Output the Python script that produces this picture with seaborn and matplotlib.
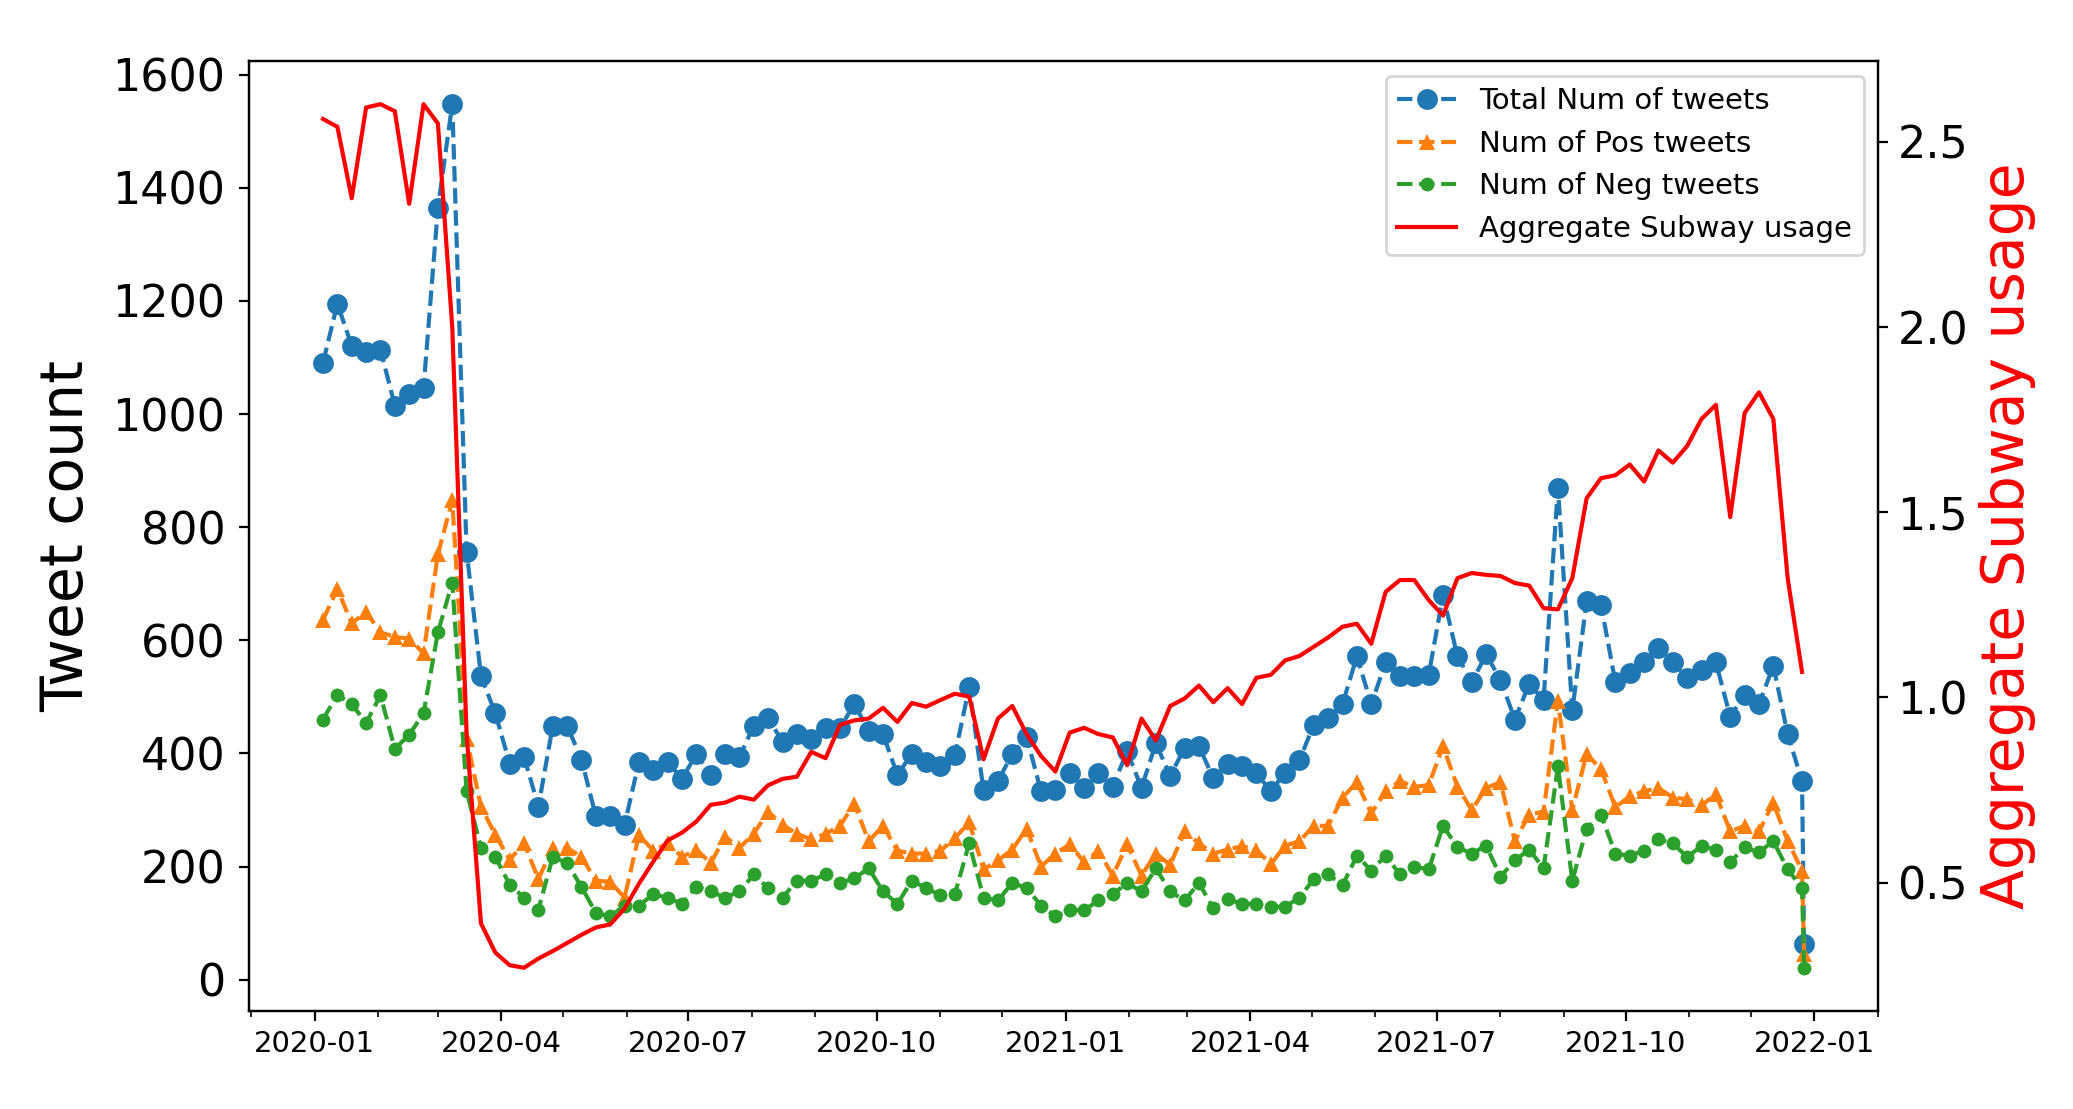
import numpy as np
import pandas as pd
import matplotlib
matplotlib.use("Agg")
import matplotlib.pyplot as plt
import matplotlib.dates as mdates
import seaborn as sns

# weekly dates, plus one trailing partial-week point
weeks = list(pd.date_range("2020-01-05", periods=104, freq="7D"))
tweet_dates = weeks + [pd.Timestamp("2021-12-27")]

total_tweets = [
    1091, 1195, 1121, 1110, 1114, 1015, 1035, 1046, 1364, 1548,
    757, 537, 471, 382, 394, 306, 449, 449, 389, 289,
    289, 274, 385, 371, 385, 355, 399, 362, 399, 394,
    449, 462, 421, 435, 426, 445, 445, 487, 440, 434,
    362, 399, 385, 377, 397, 517, 335, 351, 399, 429,
    333, 335, 366, 339, 366, 341, 404, 339, 418, 360,
    410, 413, 356, 382, 377, 366, 333, 366, 388, 451,
    462, 487, 572, 487, 561, 537, 537, 539, 680, 572,
    526, 575, 530, 460, 523, 495, 870, 476, 669, 663,
    526, 542, 561, 586, 561, 533, 548, 561, 465, 504,
    487, 555, 434, 351, 63,
]

pos_tweets = [
    636, 691, 630, 650, 614, 606, 603, 577, 752, 848,
    426, 306, 256, 212, 241, 178, 233, 233, 217, 175,
    173, 145, 256, 228, 241, 217, 230, 206, 253, 233,
    258, 297, 274, 258, 248, 258, 272, 311, 245, 272,
    228, 223, 223, 228, 250, 278, 195, 211, 230, 267,
    200, 223, 239, 208, 228, 184, 239, 184, 223, 203,
    262, 241, 223, 230, 236, 230, 204, 237, 245, 272,
    272, 322, 349, 294, 333, 351, 341, 344, 413, 341,
    300, 339, 349, 245, 292, 297, 493, 300, 399, 372,
    305, 324, 333, 339, 322, 319, 308, 328, 262, 272,
    262, 313, 245, 193, 46,
]

neg_tweets = [
    460, 504, 487, 454, 503, 408, 433, 471, 614, 702,
    333, 233, 217, 168, 145, 124, 217, 206, 164, 118,
    112, 131, 131, 151, 145, 134, 164, 156, 145, 156,
    186, 162, 145, 175, 175, 186, 171, 179, 197, 156,
    134, 175, 162, 149, 151, 241, 145, 140, 171, 162,
    131, 112, 123, 123, 140, 151, 171, 156, 197, 156,
    140, 171, 126, 142, 134, 134, 129, 129, 145, 178,
    186, 167, 219, 193, 219, 186, 200, 195, 272, 234,
    223, 237, 182, 211, 230, 197, 377, 175, 267, 292,
    223, 219, 228, 248, 241, 217, 236, 230, 208, 234,
    225, 245, 195, 162, 21,
]

subway_usage = [
    2.562, 2.541, 2.348, 2.593, 2.602, 2.583, 2.333, 2.602, 2.550, 2.00,
    0.90, 0.39, 0.311, 0.277, 0.270, 0.295, 0.315, 0.337, 0.359, 0.379,
    0.387, 0.430, 0.497, 0.557, 0.614, 0.635, 0.665, 0.710, 0.716, 0.732,
    0.724, 0.763, 0.780, 0.786, 0.853, 0.836, 0.926, 0.938, 0.943, 0.972,
    0.934, 0.985, 0.975, 0.993, 1.010, 1.002, 0.833, 0.943, 0.977, 0.901,
    0.842, 0.800, 0.905, 0.918, 0.901, 0.892, 0.817, 0.943, 0.884, 0.977,
    0.997, 1.032, 0.987, 1.025, 0.982, 1.053, 1.061, 1.100, 1.112, 1.137,
    1.162, 1.191, 1.199, 1.145, 1.285, 1.317, 1.317, 1.263, 1.221, 1.322,
    1.336, 1.331, 1.328, 1.309, 1.302, 1.241, 1.238, 1.322, 1.538, 1.592,
    1.600, 1.629, 1.583, 1.667, 1.634, 1.679, 1.752, 1.790, 1.487, 1.768,
    1.824, 1.752, 1.322, 1.069,
]

tweets = pd.DataFrame({
    "date": tweet_dates,
    "total": total_tweets,
    "pos": pos_tweets,
    "neg": neg_tweets,
})
subway = pd.DataFrame({"date": weeks, "usage": subway_usage})

fig, ax = plt.subplots(figsize=(10.365, 5.545), dpi=200)
fig.subplots_adjust(left=0.1201, right=0.906, bottom=0.0884, top=0.945)

sns.lineplot(data=tweets, x="date", y="total", ax=ax, color="C0", linestyle="--",
             marker="o", markersize=7.5, markeredgewidth=0, label="Total Num of tweets")
sns.lineplot(data=tweets, x="date", y="pos", ax=ax, color="C1", linestyle="--",
             marker="^", markersize=5.5, markeredgewidth=0, label="Num of Pos tweets")
sns.lineplot(data=tweets, x="date", y="neg", ax=ax, color="C2", linestyle="--",
             marker="o", markersize=5, markeredgewidth=0, label="Num of Neg tweets")

ax2 = ax.twinx()
sns.lineplot(data=subway, x="date", y="usage", ax=ax2, color="red",
             label="Aggregate Subway usage")

ax.set_xlabel("")
ax.set_ylabel("Tweet count", fontsize=21, labelpad=6)
ax2.set_xlabel("")
ax2.set_ylabel("Aggregate Subway usage", fontsize=21, color="red")

ax.set_yticks(np.arange(0, 1601, 200))
ax2.set_yticks([0.5, 1.0, 1.5, 2.0, 2.5])
ax.tick_params(axis="y", labelsize=16, pad=5)
ax2.tick_params(axis="y", labelsize=16)

ax.xaxis.set_major_locator(mdates.MonthLocator(bymonth=[1, 4, 7, 10]))
ax.xaxis.set_minor_locator(mdates.MonthLocator())
ax.xaxis.set_major_formatter(mdates.DateFormatter("%Y-%m"))
ax.tick_params(axis="x", labelsize=10.5)

# one legend for both axes
h1, l1 = ax.get_legend_handles_labels()
h2, l2 = ax2.get_legend_handles_labels()
if ax.get_legend() is not None:
    ax.get_legend().remove()
ax2.legend(h1 + h2, l1 + l2, loc="upper right", fontsize=10.5)

fig.savefig("out.png", dpi=200)
